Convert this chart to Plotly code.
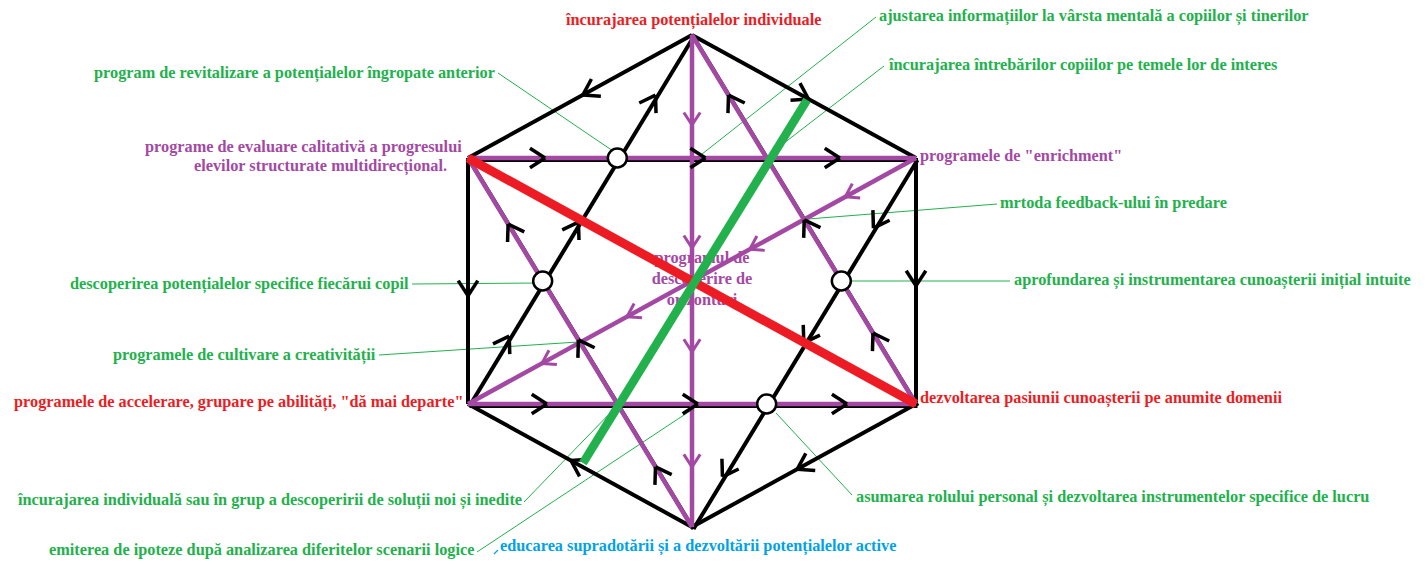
import math
import plotly.graph_objects as go

# ---------------- data ----------------
NODE_NAMES = ["T", "UR", "LR", "B", "LL", "UL", "G1", "G2"]
NODE_X = [692, 916, 916, 692, 468, 468, 807, 583]
NODE_Y = [35, 158, 404, 527, 404, 158, 100, 463]

HEX_EDGES = [("T", "UR"), ("UR", "LR"), ("LR", "B"), ("B", "LL"), ("LL", "UL"), ("UL", "T")]
STAR_EDGES = [("LL", "T"), ("T", "LR"), ("LR", "LL"), ("B", "UL"), ("UL", "UR"), ("UR", "B")]
PURPLE_EDGES = [("T", "B"), ("UL", "UR"), ("LL", "LR"), ("UR", "LL"), ("T", "LR"), ("UL", "B")]
RED_EDGES = [("UL", "LR")]
GREEN_EDGES = [("G1", "G2")]

# arrow heads: (from, to, fraction along edge) -> pointing toward "to"
BLACK_ARROWS = [
    ("T", "UL", 0.487), ("T", "UR", 0.52), ("UR", "LR", 0.52), ("LR", "B", 0.53),
    ("B", "LL", 0.54), ("UL", "LL", 0.56),
    ("LL", "T", 0.184), ("LL", "T", 0.493), ("LL", "T", 0.837),
    ("LR", "T", 0.192), ("LR", "T", 0.499), ("LR", "T", 0.837),
    ("UR", "B", 0.19), ("UR", "B", 0.501), ("UR", "B", 0.864),
    ("B", "UL", 0.163), ("B", "UL", 0.507), ("B", "UL", 0.821),
    ("UL", "UR", 0.172), ("UL", "UR", 0.53), ("UL", "UR", 0.83),
    ("LL", "LR", 0.176), ("LL", "LR", 0.513), ("LL", "LR", 0.846),
]
PURPLE_ARROWS = [
    ("T", "B", 0.183), ("T", "B", 0.433), ("T", "B", 0.644), ("T", "B", 0.878),
    ("UR", "LL", 0.158), ("UR", "LL", 0.371), ("UR", "LL", 0.645), ("UR", "LL", 0.835),
]
# open circles at crossings of two edges
CIRCLE_CROSSINGS = [
    (("LL", "T"), ("UL", "UR")),
    (("LL", "T"), ("B", "UL")),
    (("LR", "T"), ("UR", "B")),
    (("UR", "B"), ("LL", "LR")),
]

CENTER_TEXT = "programul de<br>descoperire de<br>orizonturi"

LABEL_TEXTS = [
    "încurajarea potențialelor individuale",
    "ajustarea informațiilor la vârsta mentală a copiilor și tinerilor",
    "încurajarea întrebărilor copiilor pe temele lor de interes",
    "program de revitalizare a potențialelor îngropate anterior",
    "programe de evaluare calitativă a progresului",
    "elevilor structurate multidirecțional.",
    'programele de "enrichment"',
    "mrtoda feedback-ului în predare",
    "aprofundarea și instrumentarea cunoașterii inițial intuite",
    "descoperirea potențialelor specifice fiecărui copil",
    "programele de cultivare a creativității",
    'programele de accelerare, grupare pe abilități, "dă mai departe"',
    "dezvoltarea pasiunii cunoașterii pe anumite domenii",
    "încurajarea individuală sau în grup a descoperirii de soluții noi și inedite",
    "asumarea rolului personal și dezvoltarea instrumentelor specifice de lucru",
    "emiterea de ipoteze după analizarea diferitelor scenarii logice",
    "educarea supradotării și a dezvoltării potențialelor active",
]
LABEL_KIND = ["red", "green", "green", "green", "purple", "purple", "purple", "green", "green",
              "green", "green", "red", "red", "green", "green", "green", "blue"]

# ---------------- layout / style ----------------
COLORS = {"red": "#ed1c24", "green": "#22b14c", "purple": "#a349a4", "blue": "#00a2e8", "black": "#000000"}
LABEL_POS = [  # (x, y, xanchor)
    (693, 20, "center"), (878, 16, "left"), (887, 64, "left"), (496, 73, "right"),
    (463, 146, "right"), (448, 166, "right"), (919, 155, "left"), (999, 202, "left"),
    (1013, 280, "left"), (410, 284, "right"), (377, 355, "right"), (464, 402, "right"),
    (919, 398, "left"), (523, 500, "right"), (855, 497, "left"), (475, 549, "right"),
    (499, 546, "left"),
]
# leader lines: (start point near text, end point on diagram)
LEADERS = [
    ((876, 17), (697, 158)),
    ((884, 66), (775, 150)),
    ((498, 73), (613, 151)),
    ((997, 204), (808, 219)),
    ((1010, 281), (852, 281)),
    ((412, 284), (539, 283)),
    ((379, 355), (578, 342)),
    ((524, 502), (615, 408)),
    ((477, 552), (690, 411)),
    ((852, 495), (776, 413)),
]
BLUE_TICK = [((494, 554), (498, 550))]

W, H = 1428, 563
FONT = "Liberation Serif, Times New Roman, serif"
FS = 16.3

P = {n: (x, y) for n, x, y in zip(NODE_NAMES, NODE_X, NODE_Y)}

fig = go.Figure()


def add_segments(segs, color, width, opacity=1.0):
    xs, ys = [], []
    for (x0, y0), (x1, y1) in segs:
        xs += [x0, x1, None]
        ys += [y0, y1, None]
    fig.add_trace(go.Scatter(x=xs, y=ys, mode="lines", line=dict(color=color, width=width),
                             opacity=opacity, hoverinfo="skip", showlegend=False))


def edge_segs(edges, dx=0.0, dy=0.0):
    return [((P[a][0] + dx, P[a][1] + dy), (P[b][0] + dx, P[b][1] + dy)) for a, b in edges]


def chevrons(arrows, length=17, half_angle=33):
    segs = []
    for a, b, t in arrows:
        (x0, y0), (x1, y1) = P[a], P[b]
        ax, ay = x0 + t * (x1 - x0), y0 + t * (y1 - y0)
        d = math.hypot(x1 - x0, y1 - y0)
        ux, uy = (x0 - x1) / d, (y0 - y1) / d  # back direction
        for s in (1, -1):
            ang = math.radians(half_angle * s)
            rx = ux * math.cos(ang) - uy * math.sin(ang)
            ry = ux * math.sin(ang) + uy * math.cos(ang)
            segs.append(((ax, ay), (ax + rx * length, ay + ry * length)))
    return segs


def intersect(e1, e2):
    (x1, y1), (x2, y2) = P[e1[0]], P[e1[1]]
    (x3, y3), (x4, y4) = P[e2[0]], P[e2[1]]
    den = (x1 - x2) * (y3 - y4) - (y1 - y2) * (x3 - x4)
    t = ((x1 - x3) * (y3 - y4) - (y1 - y3) * (x3 - x4)) / den
    return x1 + t * (x2 - x1), y1 + t * (y2 - y1)


# center text (underneath the lines)
fig.add_trace(go.Scatter(x=[702], y=[280], mode="text", text=["<b>" + CENTER_TEXT + "</b>"],
                         textposition="middle center",
                         textfont=dict(family=FONT, size=FS, color=COLORS["purple"]),
                         hoverinfo="skip", showlegend=False))

# leader lines
add_segments(LEADERS, COLORS["green"], 1)
add_segments(BLUE_TICK, COLORS["blue"], 1.2)

# black hexagon and star
add_segments(edge_segs(HEX_EDGES), COLORS["black"], 4)
add_segments(edge_segs(STAR_EDGES, dx=1.5, dy=2), COLORS["black"], 4)

# purple lines
add_segments(edge_segs(PURPLE_EDGES), COLORS["purple"], 4.5)

# arrow heads
add_segments(chevrons(BLACK_ARROWS, length=18), COLORS["black"], 3.5)
add_segments(chevrons(PURPLE_ARROWS, length=15), COLORS["purple"], 3)

# red and green thick lines
add_segments(edge_segs(RED_EDGES), COLORS["red"], 9)
add_segments(edge_segs(GREEN_EDGES), COLORS["green"], 8.5)

# open circles
cx, cy = zip(*[intersect(a, b) for a, b in CIRCLE_CROSSINGS])
fig.add_trace(go.Scatter(x=list(cx), y=list(cy), mode="markers",
                         marker=dict(size=19, color="white", line=dict(color="black", width=2.5)),
                         hoverinfo="skip", showlegend=False))

# labels
for text, kind, (x, y, xa) in zip(LABEL_TEXTS, LABEL_KIND, LABEL_POS):
    fig.add_annotation(x=x, y=y, text="<b>" + text + "</b>", showarrow=False,
                       xanchor=xa, yanchor="middle", borderpad=0,
                       font=dict(family=FONT, size=FS, color=COLORS[kind]))

fig.update_layout(
    width=W, height=H, margin=dict(l=0, r=0, t=0, b=0),
    paper_bgcolor="white", plot_bgcolor="white",
    xaxis=dict(range=[0, W], visible=False, showgrid=False, zeroline=False, fixedrange=True),
    yaxis=dict(range=[H, 0], visible=False, showgrid=False, zeroline=False, fixedrange=True),
)

fig.write_html("out.html", config={"displayModeBar": False},
               post_script="document.body.style.margin='0';document.body.style.overflow='hidden';")
